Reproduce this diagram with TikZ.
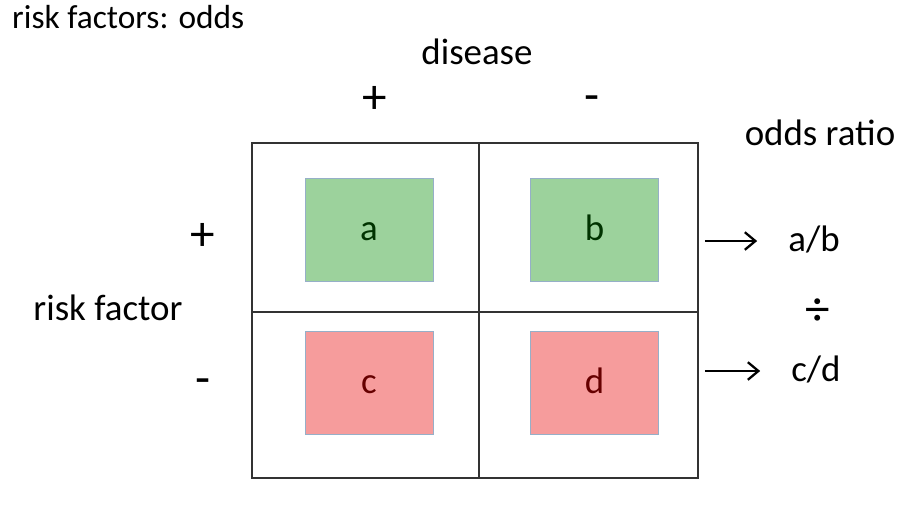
\documentclass[tikz,border=0pt]{standalone}
\usepackage{fontspec}
\setmainfont{Carlito}
\usepackage{xcolor}
\usetikzlibrary{arrows.meta,positioning}
\definecolor{posfill}{RGB}{156,210,156}
\definecolor{negfill}{RGB}{246,156,156}
\definecolor{boxedge}{RGB}{150,175,200}

\begin{document}
\begin{tikzpicture}[
  x=0.02cm, y=-0.02cm,
  every node/.style={font=\fontsize{21}{25}\selectfont},
  cell/.style={rectangle, draw=black!80, line width=1.3pt,
               inner sep=0pt, outer sep=0pt},
  posbox/.style={rectangle, draw=boxedge, line width=0.4pt, fill=posfill,
                 text=green!20!black, minimum width=2.56cm, minimum height=2.06cm,
                 text height=16pt, text depth=4pt},
  negbox/.style={rectangle, draw=boxedge, line width=0.4pt, fill=negfill,
                 text=red!40!black, minimum width=2.56cm, minimum height=2.06cm,
                 text height=16pt, text depth=4pt},
  sign/.style={font=\fontsize{28}{30}\selectfont},
  ratio/.style={text height=16pt, text depth=4pt},
  arr/.style={-{Straight Barb[length=6pt,width=10pt]}, line width=1.3pt,
              shorten <=0.14cm, shorten >=0.5cm}
]
\useasboundingbox (0,0) rectangle (916,504);
\fill[white] (0,0) rectangle (916,504);
% 2x2 table
\node[cell, minimum width=4.54cm, minimum height=3.38cm] (ca) at (365.5,227.5) {};
\node[cell, minimum width=4.38cm, minimum height=3.38cm, right=0pt of ca] (cb) {};
\node[cell, minimum width=4.54cm, minimum height=3.32cm, below=0pt of ca] (cc) {};
\node[cell, minimum width=4.38cm, minimum height=3.32cm, right=0pt of cc] (cd) {};
\node[posbox] (a) at (369,229.5) {a};
\node[posbox] (b) at (594.5,229.5) {b};
\node[negbox] (c) at (369,382.5) {c};
\node[negbox] (d) at (594.5,382.5) {d};
% headings
\node[anchor=west, font=\fontsize{19}{23}\selectfont] (title) at (6,17) {risk factors: odds};
\node (disease) at (477,52) {disease};
\node[sign] (dplus) at (375,100) {+};
\node[sign] (dminus) at (592,104) {-};
\node (rf) at (108,308) {risk factor};
\node[sign] (rplus) at (203,237) {+};
\node[sign] (rminus) at (203,387) {-};
% odds ratio column
\node (ortitle) at (820,133) {odds ratio};
\node[ratio] (ab) at (814,241) {a/b};
\node[sign] (div) at (818,312) {÷};
\node[ratio] (cdr) at (816,371) {c/d};
\draw[arr] (cb.east |- ab) -- (ab.west);
\draw[arr] (cd.east |- cdr) -- (cdr.west);
\end{tikzpicture}
\end{document}
